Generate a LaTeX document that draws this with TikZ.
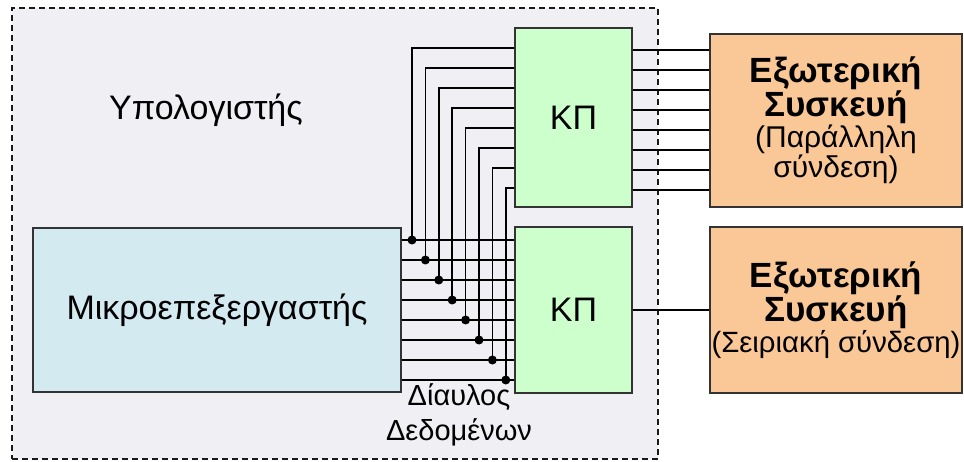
\documentclass[tikz,border=0pt]{standalone}
\usepackage{fontspec}
\setmainfont{Liberation Sans}
\definecolor{pcgray}{RGB}{240,239,244}
\definecolor{cpublue}{RGB}{210,234,240}
\definecolor{kpgreen}{RGB}{204,255,204}
\definecolor{devorange}{RGB}{250,200,150}

\begin{document}
\begin{tikzpicture}[x=1pt, y=-1pt, line width=1.7pt,
    unit/.style={draw=black!80, line width=2pt, inner sep=0pt, align=center},
    bigtext/.style={font=\fontsize{34}{40}\selectfont}]
    \useasboundingbox (0,0) rectangle (964,462);
    % computer enclosure
    \node[draw=black!90, dashed, dash pattern=on 6pt off 4pt, line width=1.6pt,
      fill=pcgray, minimum width=646pt, minimum height=451pt, anchor=north west] (pc) at (11,7) {};
    \node[bigtext, anchor=base] (pclabel) at (206,120) {Υπολογιστής};
    % processor and interface units
    \node[unit, fill=cpublue, minimum width=368pt, minimum height=164pt, bigtext] (cpu) at (217,310) {Μικροεπεξεργαστής};
    \node[unit, fill=kpgreen, minimum width=117pt, minimum height=179pt, bigtext] (kpone) at (573.5,117.5) {ΚΠ};
    \node[unit, fill=kpgreen, minimum width=117pt, minimum height=165pt, bigtext] (kptwo) at (573.5,310) {ΚΠ};
    % external devices
    \node[unit, fill=devorange, minimum width=252pt, minimum height=173pt] (devpar) at (836,120.5)
      {\fontsize{35}{39}\selectfont\bfseries Εξωτερική\\ \fontsize{35}{39}\selectfont\bfseries Συσκευή\\
       \fontsize{30}{39}\selectfont (Παράλληλη\\ \fontsize{30}{39}\selectfont σύνδεση)};
    \node[unit, fill=devorange, minimum width=252pt, minimum height=165pt] (devser) at (836,310)
      {\fontsize{35}{38}\selectfont\bfseries Εξωτερική\\ \fontsize{35}{38}\selectfont\bfseries Συσκευή\\
       \fontsize{29.3}{38}\selectfont (Σειριακή σύνδεση)};
    % data bus: eight lines, each tapped and led up to the upper unit
    \foreach \i in {0,...,7} {
      \pgfmathsetmacro{\yb}{240+20*\i}
      \pgfmathsetmacro{\xd}{412+13.4*\i}
      \pgfmathsetmacro{\yt}{48+20*\i}
      \pgfmathsetmacro{\yr}{50+20*\i}
      \coordinate (tap\i) at (\xd,\yb);
      \draw (cpu.east |- tap\i) -- (kptwo.west |- tap\i);
      \draw (tap\i) -- (\xd,\yt) -- (kpone.west |- 0,\yt);
      \fill (tap\i) circle[radius=4.5];
      % parallel link
      \draw (kpone.east |- 0,\yr) -- (devpar.west |- 0,\yr);
    }
    % serial link
    \draw (kptwo.east) -- (devser.west);
    \node[font=\fontsize{29}{32}\selectfont, anchor=base] (busone) at (459,405) {Δίαυλος};
    \node[font=\fontsize{29}{32}\selectfont, anchor=base] (bustwo) at (459,440) {Δεδομένων};
\end{tikzpicture}
\end{document}
